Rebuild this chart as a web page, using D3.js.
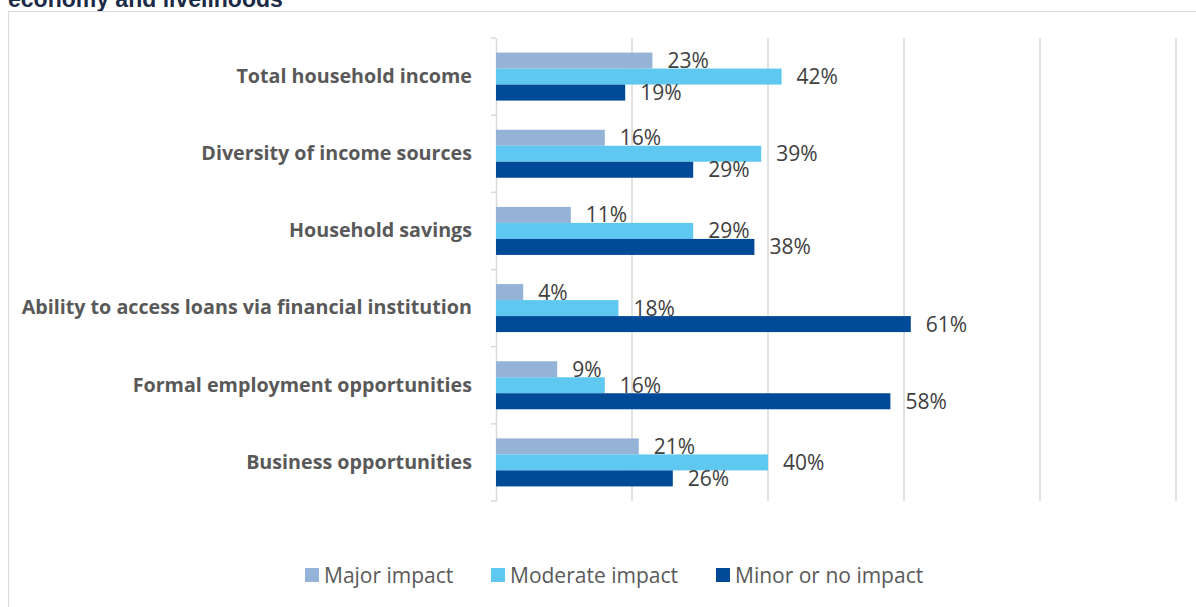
<!DOCTYPE html>
<html>
<head>
<meta charset="utf-8">
<script src="https://cdn.jsdelivr.net/npm/d3@7"></script>
<style>
  body { margin: 0; background: #fff; }
</style>
</head>
<body>
<script>
const categories = [
  "Total household income",
  "Diversity of income sources",
  "Household savings",
  "Ability to access loans via financial institution",
  "Formal employment opportunities",
  "Business opportunities"
];
const seriesNames = ["Major impact", "Moderate impact", "Minor or no impact"];
const majorImpact = [23, 16, 11, 4, 9, 21];
const moderateImpact = [42, 39, 29, 18, 16, 40];
const minorImpact = [19, 29, 38, 61, 58, 26];
const xTicks = [0, 20, 40, 60, 80, 100];

const colors = ["#95b3d7", "#5fc8f0", "#004a98"];
const series = [majorImpact, moderateImpact, minorImpact];

const w = 1196, h = 607;

let svg = d3.select("body").append("svg")
    .attr("width", w)
    .attr("height", h);

// title, cut off at the top of the picture
svg.append("text")
    .attr("x", 8)
    .attr("y", 7)
    .attr("font-family", "Liberation Sans, Arial, sans-serif")
    .attr("font-weight", "bold")
    .attr("font-size", 23)
    .attr("fill", "#1b2a47")
    .text("economy and livelihoods");

// chart frame
svg.append("rect")
    .attr("x", 8.5)
    .attr("y", 11.5)
    .attr("width", w + 10)
    .attr("height", h + 10)
    .attr("fill", "none")
    .attr("stroke", "#d9d9d9");

let x = d3.scaleLinear()
    .domain([0, 100])
    .range([496, 1176]);

let y = d3.scaleBand()
    .domain(categories)
    .range([38, 501]);

let inner = d3.scaleBand()
    .domain(d3.range(3))
    .range([0, 48]);

// gridlines
svg.append("g")
    .selectAll("line")
    .data(xTicks.slice(1))
    .enter().append("line")
    .attr("x1", d => x(d))
    .attr("x2", d => x(d))
    .attr("y1", 38)
    .attr("y2", 501)
    .attr("stroke", "#d9d9d9")
    .attr("stroke-width", 1.5);

// category axis
let yAxis = g => g
    .attr("transform", `translate(${x(0)},0)`)
    .call(d3.axisLeft(y).tickSize(0).tickPadding(24))
    .call(g => g.select(".domain").attr("stroke", "#d9d9d9").attr("stroke-width", 1.5))
    .call(g => g.selectAll(".tick text")
        .attr("font-family", "Open Sans, sans-serif")
        .attr("font-weight", "bold")
        .attr("font-size", 19.7)
        .attr("fill", "#595959"));

svg.append("g").call(yAxis);

// small tick marks between categories
svg.append("g")
    .selectAll("line")
    .data(d3.range(categories.length + 1))
    .enter().append("line")
    .attr("x1", x(0) - 5)
    .attr("x2", x(0))
    .attr("y1", i => 38 + i * y.step())
    .attr("y2", i => 38 + i * y.step())
    .attr("stroke", "#d9d9d9")
    .attr("stroke-width", 1.5);

const groupOffset = (y.bandwidth() - 48) / 2;

series.forEach((vals, s) => {
  let g = svg.append("g");
  g.selectAll("rect")
    .data(vals)
    .enter().append("rect")
    .attr("x", x(0))
    .attr("y", (d, i) => y(categories[i]) + groupOffset + inner(s))
    .attr("width", d => x(d) - x(0))
    .attr("height", inner.bandwidth())
    .attr("fill", colors[s]);

  g.selectAll("text")
    .data(vals)
    .enter().append("text")
    .attr("x", d => x(d) + 15)
    .attr("y", (d, i) => y(categories[i]) + groupOffset + inner(s) + inner.bandwidth() / 2)
    .attr("dy", "0.36em")
    .attr("font-family", "Open Sans, sans-serif")
    .attr("font-size", 21)
    .attr("fill", "#404040")
    .text(d => d + "%");
});

// legend
const legendX = [305, 491, 716];
let legend = svg.append("g");
seriesNames.forEach((name, i) => {
  legend.append("rect")
    .attr("x", legendX[i])
    .attr("y", 568)
    .attr("width", 14)
    .attr("height", 14)
    .attr("fill", colors[i]);
  legend.append("text")
    .attr("x", legendX[i] + 19)
    .attr("y", 575)
    .attr("dy", "0.36em")
    .attr("font-family", "Open Sans, sans-serif")
    .attr("font-size", 21)
    .attr("fill", "#595959")
    .text(name);
});
</script>
</body>
</html>
